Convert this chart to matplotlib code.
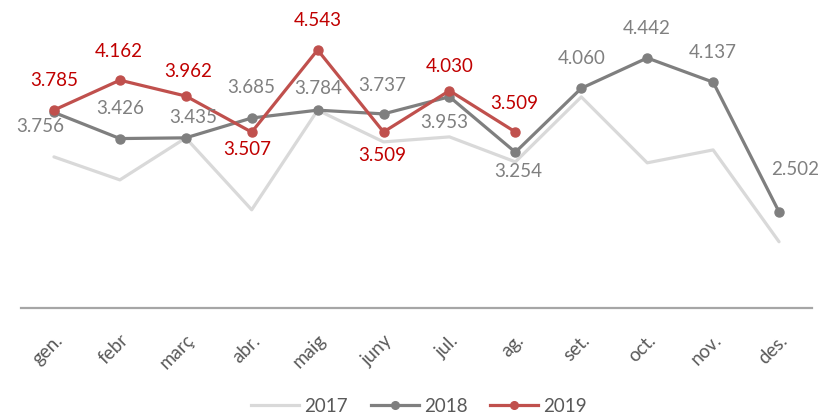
import matplotlib
matplotlib.use("Agg")
import matplotlib.pyplot as plt
from matplotlib.lines import Line2D

months = ["gen.", "febr", "març", "abr.", "maig", "juny", "jul.", "ag.", "set.", "oct.", "nov.", "des."]
v2017 = [3.195, 2.905, 3.434, 2.528, 3.784, 3.384, 3.447, 3.132, 3.951, 3.120, 3.283, 2.125]
v2018 = [3.756, 3.426, 3.435, 3.685, 3.784, 3.737, 3.953, 3.254, 4.060, 4.442, 4.137, 2.502]
v2019 = [3.785, 4.162, 3.962, 3.507, 4.543, 3.509, 4.030, 3.509]
labels2018 = ["3.756", "3.426", "3.435", "3.685", "3.784", "3.737", "3.953", "3.254", "4.060", "4.442", "4.137", "2.502"]
labels2019 = ["3.785", "4.162", "3.962", "3.507", "4.543", "3.509", "4.030", "3.509"]

# label offsets in pixels (dx, dy) - styling
off2018 = [(-14, -14), (0, 30), (7, 20), (0, 31), (1, 22), (-1, 28), (-5, -26), (3, -19), (0, 30), (-1, 29), (0, 30), (16, 42)]
off2019 = [(0, 30), (-1, 29), (2, 25), (-4, -17), (0, 29), (-1, -24), (0, 24), (-1, 28)]

FONT = ["Lato", "DejaVu Sans"]
plt.rcParams['font.family'] = FONT

c17 = "#D9D9D9"
c18 = "#7F7F7F"
c19 = "#C0504D"
t19 = "#C00000"
t18 = "#808080"

fig = plt.figure(figsize=(8.23, 4.17), dpi=100)
ax = fig.add_axes([21/823, (417-308)/417, 791/823, 294.3/417])

x = list(range(len(months)))
ax.plot(x, v2017, color=c17, lw=2.3, solid_capstyle='round', zorder=1)
ax.plot(x, v2018, color=c18, lw=2.3, marker='o', ms=6.5, zorder=2)
ax.plot(x[:len(v2019)], v2019, color=c19, lw=2.3, marker='o', ms=6.5, zorder=3)

px = 72/100
for i, (v, t) in enumerate(zip(v2018, labels2018)):
    dx, dy = off2018[i]
    ax.annotate(t, (i, v), xytext=(dx*px, dy*px), textcoords='offset points',
                ha='center', va='center', color=t18, fontsize=13.5)
for i, (v, t) in enumerate(zip(v2019, labels2019)):
    dx, dy = off2019[i]
    ax.annotate(t, (i, v), xytext=(dx*px, dy*px), textcoords='offset points',
                ha='center', va='center', color=t19, fontsize=13.5)

ax.set_xlim(-0.5, 11.5)
ax.set_ylim(1.29, 5.0)
for s in ['top', 'right', 'left']:
    ax.spines[s].set_visible(False)
ax.spines['bottom'].set_color('#A6A6A6')
ax.spines['bottom'].set_linewidth(1.6)
ax.set_yticks([])
ax.set_xticks(x)
ax.set_xticklabels(months, rotation=45, ha='right', va='top', rotation_mode='anchor',
                   color='#595959', fontsize=13.5)
ax.tick_params(axis='x', length=0, pad=17)

handles = [Line2D([], [], color=c17, lw=2.3),
           Line2D([], [], color=c18, lw=2.3, marker='o', ms=5.5),
           Line2D([], [], color=c19, lw=2.3, marker='o', ms=5.5)]
leg = fig.legend(handles, ["2017", "2018", "2019"], loc='center', bbox_to_anchor=(419/823, 1 - 406/417),
                 ncol=3, frameon=False, fontsize=13.5, handlelength=2.56, handletextpad=0.27,
                 columnspacing=1.2, labelcolor='#595959', borderpad=0)

fig.savefig("out.png", dpi=100)
